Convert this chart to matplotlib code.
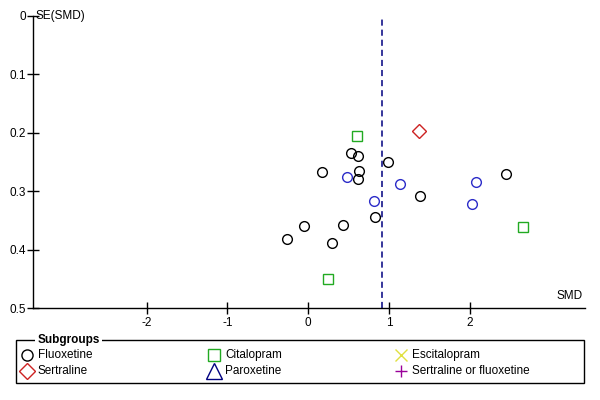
import matplotlib
matplotlib.use("Agg")
import matplotlib.pyplot as plt
from matplotlib.patches import Rectangle

plt.rcParams['font.family'] = ['Liberation Sans', 'DejaVu Sans']

# Data (SMD, SE)
fluox_smd = [0.525, 0.616, 0.984, 0.166, 0.625, 0.612, 2.45, 1.384, 0.827, -0.057, 0.426, -0.268, 0.29]
fluox_se = [0.234, 0.239, 0.250, 0.267, 0.265, 0.279, 0.270, 0.308, 0.344, 0.359, 0.358, 0.381, 0.388]
parox_smd = [0.48, 1.136, 2.074, 0.814, 2.025]
parox_se = [0.275, 0.287, 0.284, 0.316, 0.322]
cital_smd = [0.599, 2.664, 0.248]
cital_se = [0.205, 0.361, 0.450]
sert_smd = [1.379]
sert_se = [0.196]
pooled_smd = 0.917

xticks = [-2, -1, 0, 1, 2]
yticks = [0, 0.1, 0.2, 0.3, 0.4, 0.5]

fig = plt.figure(figsize=(6, 4), dpi=100)
ax = fig.add_axes([33/600, 1-308.3/400, (585-33)/600, (308.3-16)/400])

ms = 7
ax.plot(fluox_smd, fluox_se, 'o', ms=ms, mfc='none', mec='black', mew=1)
ax.plot(parox_smd, parox_se, 'o', ms=ms, mfc='none', mec='#2b2bc8', mew=1)
ax.plot(cital_smd, cital_se, 's', ms=6.5, mfc='none', mec='#22aa22', mew=1)
ax.plot(sert_smd, sert_se, 'D', ms=7, mfc='none', mec='#cc2222', mew=1)
ax.axvline(pooled_smd, color='#000080', lw=1.1, ls=(0, (4, 2.6)))

ax.set_xlim(-3.41, 3.43)
ax.set_ylim(0.5, 0)
for s in ['top', 'right']:
    ax.spines[s].set_visible(False)
ax.spines['left'].set_linewidth(1)
ax.spines['bottom'].set_linewidth(1)
ax.set_xticks(xticks)
ax.set_xticklabels([str(t) for t in xticks])
ax.set_yticks(yticks)
ax.set_yticklabels(['0', '0.1', '0.2', '0.3', '0.4', '0.5'])
ax.tick_params(axis='both', direction='inout', length=8, width=1, labelsize=8.5, colors='black', pad=1)
ax.tick_params(axis='x', pad=2)
ax.text(0.005, 1.0, 'SE(SMD)', transform=ax.transAxes, fontsize=8.5, va='center', ha='left')
ax.text(0.996, 0.02, 'SMD', transform=ax.transAxes, fontsize=8.5, va='bottom', ha='right')

# Legend panel in pixel coordinates
lax = fig.add_axes([0, 0, 1, 1], facecolor='none')
lax.set_xlim(0, 600)
lax.set_ylim(400, 0)
lax.axis('off')
lax.add_patch(Rectangle((16, 339.5), 567.5, 43.2, fill=False, ec='black', lw=1))
lax.text(37.5, 339.5, 'Subgroups', fontsize=8.5, fontweight='bold', va='center', ha='left',
         bbox=dict(facecolor='white', edgecolor='none', pad=1.5))

entries = [
    ('Fluoxetine', 'o', 'black', 8, 27, 355),
    ('Sertraline', 'D', '#cc2222', 8, 27, 371),
    ('Citalopram', 's', '#22aa22', 8, 214.3, 355),
    ('Paroxetine', '^', '#000080', 11, 214.3, 371),
    ('Escitalopram', 'x', '#e0e040', 8, 401, 355),
    ('Sertraline or fluoxetine', '+', '#990099', 9, 401, 371),
]
for label, mk, col, msz, x, y in entries:
    lax.plot([x], [y], marker=mk, ms=msz, mfc='none', mec=col, mew=1, ls='none')
    lax.text(x + 11, y, label, fontsize=8.5, va='center', ha='left')

fig.savefig('out.png', dpi=100)
